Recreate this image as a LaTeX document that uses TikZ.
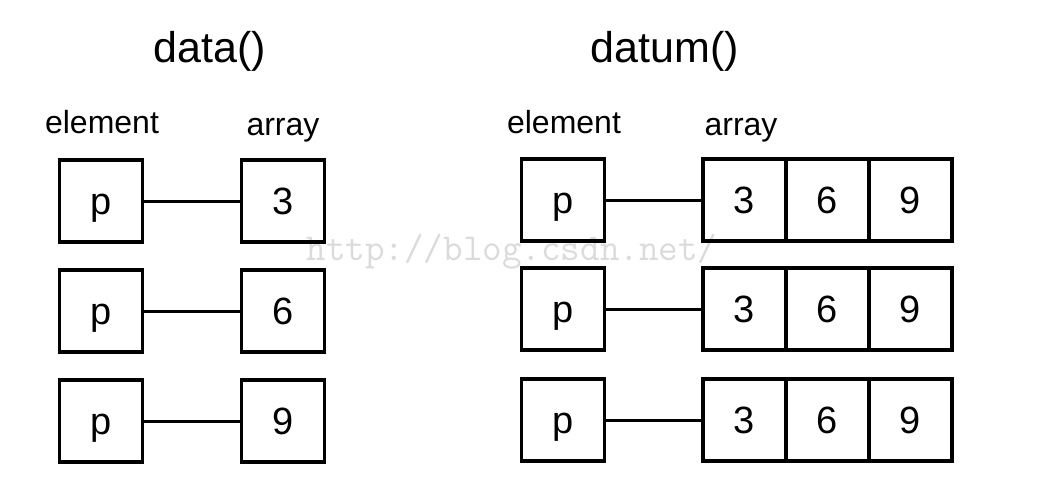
\documentclass[tikz,border=0pt]{standalone}
\usepackage{fontspec}
\setmainfont{Liberation Sans}
\usetikzlibrary{positioning}

\begin{document}
\begin{tikzpicture}[x=1pt,y=-1pt,node distance=0pt,
  box/.style={draw,line width=3.3pt,minimum width=83pt,minimum height=82pt,inner sep=0pt,outer sep=0pt,
    text height=27pt,text depth=0pt,font=\fontsize{38}{40}\selectfont},
  title/.style={anchor=base,font=\fontsize{43}{48}\selectfont},
  caption/.style={anchor=base,font=\fontsize{32}{36}\selectfont},
  link/.style={line width=3pt}]
\useasboundingbox (0,0) rectangle (1044,488);

% watermark
\node[anchor=base,text=black!14,font=\ttfamily\fontsize{38}{40}\selectfont] (mark) at (512,260) {http://blog.csdn.net/};

% titles
\node[title] (tdata) at (210,62) {data()};
\node[title] (tdatum) at (665,62) {datum()};

% column labels
\node[caption] (lelem) at (102,133) {element};
\node[caption] (larr) at (283,135) {array};
\node[caption] (relem) at (564,133) {element};
\node[caption] (rarr) at (741,135) {array};

% data(): one value per array
\node[box] (p1) at (101,201) {p}; \node[box] (a1) at (283,201) {3};
\node[box] (p2) at (101,311) {p}; \node[box] (a2) at (283,311) {6};
\node[box] (p3) at (101,421) {p}; \node[box] (a3) at (283,421) {9};
\draw[link] (p1) -- (a1);
\draw[link] (p2) -- (a2);
\draw[link] (p3) -- (a3);

% datum(): whole array each time
\node[box] (q1) at (563,200) {p}; \node[box] (b1) at (744.5,200) {3};
\node[box,right=of b1] (c1) {6}; \node[box,right=of c1] (d1) {9};
\node[box] (q2) at (563,309) {p}; \node[box] (b2) at (744.5,309) {3};
\node[box,right=of b2] (c2) {6}; \node[box,right=of c2] (d2) {9};
\node[box] (q3) at (563,420) {p}; \node[box] (b3) at (744.5,420) {3};
\node[box,right=of b3] (c3) {6}; \node[box,right=of c3] (d3) {9};
\draw[link] (q1) -- (b1);
\draw[link] (q2) -- (b2);
\draw[link] (q3) -- (b3);
\end{tikzpicture}
\end{document}
